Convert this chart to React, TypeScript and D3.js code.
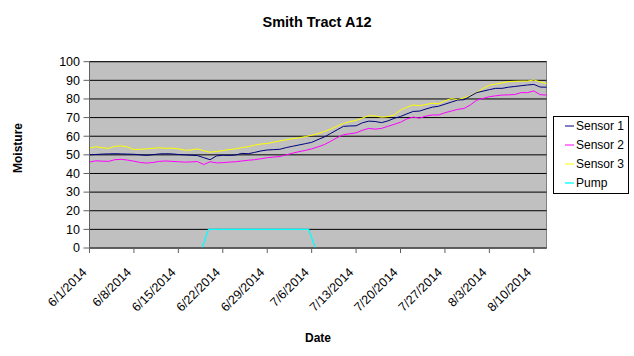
import React from "react";
import * as d3 from "d3";

const title = "Smith Tract A12";
const yTitle = "Moisture";
const xTitle = "Date";
const startDate = "2014-06-01";
const endDate = "2014-08-12";
const xTickLabels = ["6/1/2014", "6/8/2014", "6/15/2014", "6/22/2014", "6/29/2014", "7/6/2014", "7/13/2014", "7/20/2014", "7/27/2014", "8/3/2014", "8/10/2014"];
const yTicks = [0, 10, 20, 30, 40, 50, 60, 70, 80, 90, 100];

const sensor1 = [50.0, 50.2, 50.4, 50.5, 50.6, 50.5, 50.4, 50.3, 50.0, 49.7, 50.1, 50.5, 50.6, 50.5, 50.2, 50.0, 49.8, 49.6, 48.5, 47.4, 49.4, 49.8, 49.7, 49.9, 50.8, 50.6, 51.3, 52.1, 52.6, 52.8, 53.0, 53.9, 54.6, 55.3, 56.0, 56.7, 58.2, 59.6, 61.5, 63.4, 65.3, 65.5, 65.6, 67.2, 68.1, 67.9, 67.3, 68.2, 69.6, 70.6, 72.0, 73.3, 73.5, 74.6, 75.6, 76.1, 77.2, 78.3, 79.4, 79.6, 81.5, 83.4, 84.2, 85.0, 85.7, 85.7, 86.3, 86.7, 87.1, 87.5, 87.8, 86.4, 86.3];
const sensor2 = [46.1, 46.8, 46.6, 46.5, 47.4, 47.6, 47.2, 46.6, 45.9, 45.6, 45.9, 46.5, 46.7, 46.5, 46.3, 46.1, 46.2, 46.4, 44.8, 46.3, 45.7, 45.8, 46.1, 46.3, 46.7, 47.1, 47.4, 47.9, 48.5, 48.8, 49.1, 50.0, 50.9, 51.7, 52.4, 53.2, 54.3, 55.5, 57.3, 59.2, 60.8, 61.3, 61.8, 63.2, 64.2, 63.8, 64.2, 65.3, 66.4, 67.5, 69.3, 70.3, 69.7, 70.8, 71.4, 71.4, 72.6, 73.5, 74.4, 74.9, 76.8, 79.3, 80.3, 81.2, 81.7, 82.1, 82.2, 82.4, 83.4, 83.4, 84.3, 82.3, 82.1];
const sensor3 = [53.6, 54.4, 53.8, 53.5, 54.6, 54.8, 54.2, 52.8, 53.0, 53.2, 53.5, 53.8, 53.5, 53.6, 53.2, 52.5, 52.6, 53.2, 52.2, 51.4, 51.8, 52.3, 52.8, 53.2, 53.9, 54.4, 55.2, 55.8, 56.1, 56.8, 57.5, 58.1, 58.7, 59.1, 59.8, 60.5, 61.4, 62.5, 63.8, 65.4, 66.8, 67.8, 68.5, 69.8, 71.0, 70.9, 70.2, 70.5, 71.4, 74.0, 75.6, 76.8, 76.4, 77.0, 77.7, 77.4, 79.0, 80.2, 79.6, 80.6, 81.7, 83.5, 85.6, 87.4, 88.0, 88.6, 89.3, 89.5, 89.6, 89.6, 90.2, 89.2, 88.2];
const pumpTimes = ["2014-06-18T17:30", "2014-06-19T18:00", "2014-07-05T12:30", "2014-07-06T14:00"];
const pumpValues = [0, 10, 10, 0];

const seriesNames = ["Sensor 1", "Sensor 2", "Sensor 3", "Pump"];
const seriesColors = ["#000080", "#FF00FF", "#FFFF00", "#00FFFF"];

const FONT = "'Liberation Sans', Arial, sans-serif";

export default function App() {
  const W = 634, H = 356;
  const left = 89.5, right = 546.5, top = 61.7, bottom = 248;
  const parseISO = d3.timeParse("%Y-%m-%d");
  const parseTime = d3.timeParse("%Y-%m-%dT%H:%M");
  const parseLabel = d3.timeParse("%m/%d/%Y");
  const t0 = parseISO(startDate) as Date;
  const t1 = parseISO(endDate) as Date;
  const x = d3.scaleTime().domain([t0, t1]).range([left, right]);
  const y = d3.scaleLinear().domain([0, 100]).range([bottom, top]);

  const sensorData = [sensor1, sensor2, sensor3].map((arr) =>
    arr.map((v, i) => ({ t: d3.timeDay.offset(t0, i), v }))
  );
  const pumpData = pumpTimes.map((s, i) => ({ t: parseTime(s) as Date, v: pumpValues[i] }));

  const line = d3
    .line<{ t: Date; v: number }>()
    .x((d) => x(d.t))
    .y((d) => y(d.v));

  const xTicks = xTickLabels.map((l) => ({ l, t: parseLabel(l) as Date }));

  const legendX = 553.5, legendY = 116.5, legendW = 75, legendH = 77;

  return (
    <svg width={W} height={H} style={{ position: "absolute", left: 0, top: 0, background: "#fff" }} fontFamily={FONT}>
      <rect x={0} y={0} width={W} height={H} fill="#fff" />
      <text x={317} y={27} textAnchor="middle" fontSize={14.5} fontWeight="bold" fill="#000">{title}</text>

      <rect x={left} y={top} width={right - left} height={bottom - top} fill="#C0C0C0" stroke="#808080" strokeWidth={1} />
      {yTicks.map((v) => (
        <line key={"g" + v} x1={left} x2={right} y1={y(v)} y2={y(v)} stroke="#000" strokeWidth={1} />
      ))}

      <path d={line(pumpData) || ""} fill="none" stroke={seriesColors[3]} strokeWidth={1.3} />
      {[2, 1, 0].map((i) => (
        <path key={"s" + i} d={line(sensorData[i]) || ""} fill="none" stroke={seriesColors[i]} strokeWidth={1} />
      ))}

      <line x1={left} x2={left} y1={top} y2={bottom} stroke="#606060" strokeWidth={1} />
      <line x1={left} x2={right} y1={bottom} y2={bottom} stroke="#606060" strokeWidth={1.3} />
      {yTicks.map((v) => (
        <g key={"yt" + v}>
          <line x1={left - 6} x2={left} y1={y(v)} y2={y(v)} stroke="#606060" />
          <text x={80} y={y(v)} dy="0.35em" textAnchor="end" fontSize={12.5} fill="#000">{v}</text>
        </g>
      ))}
      {xTicks.map((d) => (
        <g key={"xt" + d.l}>
          <line x1={x(d.t)} x2={x(d.t)} y1={bottom} y2={bottom + 5} stroke="#606060" />
          <text transform={`translate(${x(d.t) - 2},${bottom + 25}) rotate(-45)`} textAnchor="end" fontSize={12.5} fill="#000">{d.l}</text>
        </g>
      ))}

      <text transform={`translate(22,148) rotate(-90)`} textAnchor="middle" fontSize={12} fontWeight="bold" fill="#000">{yTitle}</text>
      <text x={318} y={342} textAnchor="middle" fontSize={12} fontWeight="bold" fill="#000">{xTitle}</text>

      <rect x={legendX} y={legendY} width={legendW} height={legendH} fill="#fff" stroke="#000" strokeWidth={1} />
      {seriesNames.map((n, i) => (
        <g key={"lg" + n}>
          <line x1={565} x2={574} y1={126 + i * 19} y2={126 + i * 19} stroke={seriesColors[i]} strokeWidth={i === 3 ? 1.3 : 1} />
          <text x={576} y={126 + i * 19} dy="0.35em" fontSize={12} fill="#000">{n}</text>
        </g>
      ))}
    </svg>
  );
}
